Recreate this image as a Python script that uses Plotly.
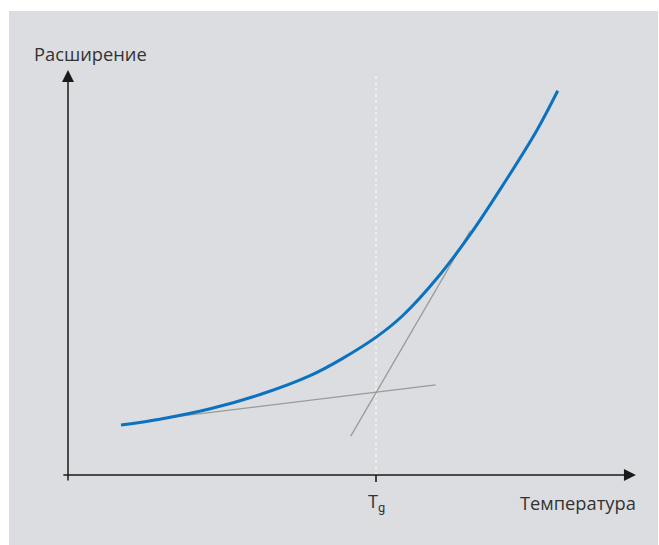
import plotly.graph_objects as go

# Thermal expansion curve (arbitrary units) with glass-transition construction
temperature = [0.86, 1.49, 2.31, 3.12, 3.93, 4.46, 5.02, 5.44, 5.99, 6.53, 7.06, 7.61, 7.95]
expansion = [1.30, 1.45, 1.72, 2.09, 2.58, 3.03, 3.60, 4.15, 5.11, 6.25, 7.53, 8.95, 9.98]

# Tangent lines: glassy region and rubbery region
glass_t = [1.33, 5.97]
glass_e = [1.43, 2.34]
melt_t = [4.59, 6.53]
melt_e = [1.01, 6.34]

tg = 5.0
x_label = "Температура"
y_label = "Расширение"
tg_label = "T<sub><span style='font-family:Roboto'>g</span></sub>"

# Axis geometry in data units
x_axis_start, x_axis_end = -0.10, 9.22
y_axis_start, y_axis_end = -0.18, 10.52
tg_line_top = 10.39

BLUE = "#0a72c0"
GRAY = "#9a9a9a"
AXIS = "#1a1a1a"
TEXT = "#333333"
FONT = "Open Sans"
FONT_SIZE = 18.3

fig = go.Figure()

fig.add_trace(go.Scatter(
    x=glass_t, y=glass_e, mode="lines",
    line=dict(color=GRAY, width=1.3), hoverinfo="skip", showlegend=False,
))
fig.add_trace(go.Scatter(
    x=melt_t, y=melt_e, mode="lines",
    line=dict(color=GRAY, width=1.3), hoverinfo="skip", showlegend=False,
))
fig.add_trace(go.Scatter(
    x=temperature, y=expansion, mode="lines",
    line=dict(color=BLUE, width=3, shape="spline", smoothing=1.0),
    hoverinfo="skip", showlegend=False,
))

shapes = [
    # panel background
    dict(type="rect", xref="paper", yref="paper",
         x0=9 / 659, x1=658 / 659, y0=0, y1=1 - 11 / 545,
         fillcolor="#dcdde0", line=dict(width=0), layer="below"),
    # Tg marker line
    dict(type="line", xref="x", yref="y", x0=tg, x1=tg, y0=0, y1=tg_line_top,
         line=dict(color="white", width=1, dash="dot"), layer="below"),
    # Tg tick
    dict(type="line", xref="x", yref="y", x0=tg, x1=tg, y0=0, y1=y_axis_start,
         line=dict(color=AXIS, width=1.6)),
]

annotations = [
    # x axis with arrow
    dict(x=x_axis_end, y=0, ax=x_axis_start, ay=0, xref="x", yref="y",
         axref="x", ayref="y", text="", showarrow=True, arrowhead=2,
         arrowsize=1.6, arrowwidth=1.5, arrowcolor=AXIS),
    # y axis with arrow
    dict(x=0, y=y_axis_end, ax=0, ay=y_axis_start, xref="x", yref="y",
         axref="x", ayref="y", text="", showarrow=True, arrowhead=2,
         arrowsize=1.6, arrowwidth=1.5, arrowcolor=AXIS),
    dict(x=-0.58, y=10.96, xref="x", yref="y", text=y_label, showarrow=False,
         xanchor="left", yanchor="middle",
         font=dict(family=FONT, size=FONT_SIZE, color=TEXT)),
    dict(x=9.25, y=-0.72, xref="x", yref="y", text=x_label, showarrow=False,
         xanchor="right", yanchor="middle",
         font=dict(family=FONT, size=FONT_SIZE, color=TEXT)),
    dict(x=tg, y=-0.68, xref="x", yref="y", text=tg_label, showarrow=False,
         xanchor="center", yanchor="middle",
         font=dict(family=FONT, size=FONT_SIZE, color=TEXT)),
]

fig.update_layout(
    width=659, height=545,
    margin=dict(l=0, r=0, t=0, b=0),
    paper_bgcolor="white", plot_bgcolor="rgba(0,0,0,0)",
    xaxis=dict(range=[-68 / 61.6, (659 - 68) / 61.6], visible=False, fixedrange=True),
    yaxis=dict(range=[-70 / 38.5, 475 / 38.5], visible=False, fixedrange=True),
    shapes=shapes, annotations=annotations,
)

fig.write_html("out.html")
